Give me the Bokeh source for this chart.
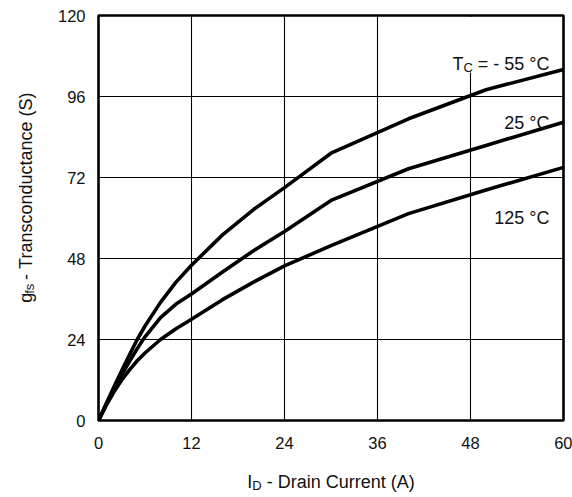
import math
from bokeh.plotting import figure
from bokeh.layouts import row, column
from bokeh.models import Label, BoxAnnotation, Range1d, FixedTicker
from bokeh.embed import file_html
from bokeh.resources import INLINE

# ---- data ----
drain_current = [0, 1, 2, 3, 4, 5, 6, 8, 10, 12, 16, 20, 24, 30, 40, 50, 60]
gfs_m55 = [0, 5, 10, 14.8, 19.5, 24, 28, 35, 41, 46, 55, 62.5, 69, 79.2, 89.4, 98, 104]
gfs_25 = [0, 4.8, 9.3, 13.5, 17.5, 21.3, 24.8, 30.5, 34.5, 37.5, 44, 50.3, 56, 65.2, 74.6, 81.5, 88.4]
gfs_125 = [0, 4.5, 8.5, 12, 15, 17.7, 20, 24, 27.2, 30, 35.8, 41, 45.8, 51.8, 61.3, 68.3, 75]
x_ticks = [0, 12, 24, 36, 48, 60]
y_ticks = [0, 24, 48, 72, 96, 120]
curve_labels = ["- 55 °C", "25 °C", "125 °C"]

W, H = 572, 497
YLW = 40            # width of the y-label strip
XLH = 40            # height of the x-label strip
MW, MH = W - YLW, H - XLH
L, R, T, B = 98 - YLW, 9, 15, 77 - XLH
FW, FH = MW - L - R, MH - T - B
XMAX, YMAX = 60, 120
NB = "\u00a0"
FX0 = YLW + L        # page x of frame left
FX1 = FX0 + FW       # page x of frame right

def dx(px):
    return (px - FX0) / FW * XMAX

def dy(py):
    return (MH - B - py) / FH * YMAX

# Arial / Liberation Sans advance widths (per 1000 em)
AW = {' ': 278, NB: 278, '-': 333, '=': 584, '(': 333, ')': 333, '°': 400, 'A': 667, 'C': 722,
      'D': 722, 'I': 278, 'S': 667, 'T': 611, 'a': 556, 'c': 500, 'd': 556, 'e': 556,
      'f': 278, 'g': 556, 'i': 222, 'n': 556, 'o': 556, 'r': 333, 's': 500, 't': 278, 'u': 556}

def tw(s, size):
    return sum(AW.get(ch, 556) for ch in s) * size / 1000.0

FONT = "Liberation Sans"
MAIN, SUB = 18, 13
TXT = "#111111"

p = figure(width=MW, height=MH, x_range=Range1d(0, XMAX), y_range=Range1d(0, YMAX),
           output_backend="svg", toolbar_location=None, title_location=None,
           min_border_left=L, min_border_right=R, min_border_top=T, min_border_bottom=B)
p.background_fill_color = "white"
p.border_fill_color = "white"
p.outline_line_color = "black"
p.outline_line_width = 2.6
p.outline_line_alpha = 1

p.xaxis.ticker = FixedTicker(ticks=x_ticks)
p.yaxis.ticker = FixedTicker(ticks=y_ticks)
p.xgrid.ticker = FixedTicker(ticks=x_ticks)
p.ygrid.ticker = FixedTicker(ticks=y_ticks)
for g in (p.xgrid, p.ygrid):
    g.grid_line_color = "black"
    g.grid_line_width = 1.1
    g.grid_line_alpha = 1

for ax in (p.xaxis, p.yaxis):
    ax.axis_line_color = None
    ax.major_tick_line_color = None
    ax.minor_tick_line_color = None
    ax.major_label_text_font = FONT
    ax.major_label_text_font_size = "16.5px"
    ax.major_label_text_color = TXT
    ax.axis_label = None
p.xaxis.major_label_standoff = 10
p.yaxis.major_label_standoff = 7

# mask gridline behind the T_C label
p.add_layout(BoxAnnotation(left=dx(465), right=dx(475), bottom=dy(72), top=dy(16.5),
                           fill_color="white", fill_alpha=1, line_color=None, level="underlay"))

for ys in (gfs_m55, gfs_25, gfs_125):
    p.line(drain_current, ys, line_color="black", line_width=3.6, line_join="round", line_cap="round")

def lab(fig, text, x, y, size, align="left", angle=0.0):
    fig.add_layout(Label(x=x, y=y, text=text, text_font=FONT, text_font_size=f"{size}px",
                         text_color=TXT, text_align=align, text_baseline="alphabetic",
                         angle=angle))

# curve labels (page px -> data)
tc_parts = [("T", MAIN, 0), ("C", SUB, 4), (NB + "=" + NB + curve_labels[0].replace(" ", NB), MAIN, 0)]
total = sum(tw(t, s) for t, s, _ in tc_parts)
cx = 549 - total
for t, s, sh in tc_parts:
    lab(p, t, dx(cx), dy(63 + sh), s)
    cx += tw(t, s)
lab(p, curve_labels[1].replace(" ", NB), dx(549), dy(122), MAIN, align="right")
lab(p, curve_labels[2].replace(" ", NB), dx(549), dy(217), MAIN, align="right")

def strip(w, h):
    f = figure(width=w, height=h, x_range=Range1d(0, w), y_range=Range1d(0, h),
               x_axis_type=None, y_axis_type=None, output_backend="svg", toolbar_location=None,
               title_location=None, min_border=0, min_border_left=0, min_border_right=0,
               min_border_top=0, min_border_bottom=0)
    f.grid.visible = False
    f.outline_line_color = None
    f.background_fill_color = "white"
    f.border_fill_color = "white"
    return f

# x-axis label strip (full page width): I_D - Drain Current (A)
xs = strip(W, XLH)
xl_parts = [("I", MAIN, 0), ("D", SUB, 4), (NB + "-" + NB + "Drain" + NB + "Current" + NB + "(A)", MAIN, 0)]
total = sum(tw(t, s) for t, s, _ in xl_parts)
cx = (FX0 + FX1) / 2 - total / 2
base = 481 - MH           # baseline, px from strip top
for t, s, sh in xl_parts:
    lab(xs, t, cx, XLH - (base + sh), s)
    cx += tw(t, s)

# y-axis label strip (rotated): g_fs - Transconductance (S)
ys_ = strip(YLW, MH)
yl_parts = [("g", MAIN, 0), ("fs", SUB, 4), (NB + "-" + NB + "Transconductance" + NB + "(S)", MAIN, 0)]
total = sum(tw(t, s) for t, s, _ in yl_parts)
cy = T + FH / 2 + total / 2
for t, s, sh in yl_parts:
    lab(ys_, t, 25 + sh, MH - cy, s, angle=math.pi / 2)
    cy -= tw(t, s)

layout = column(row(ys_, p, spacing=0), xs, spacing=0)
open("out.html", "w").write(file_html(layout, INLINE))
